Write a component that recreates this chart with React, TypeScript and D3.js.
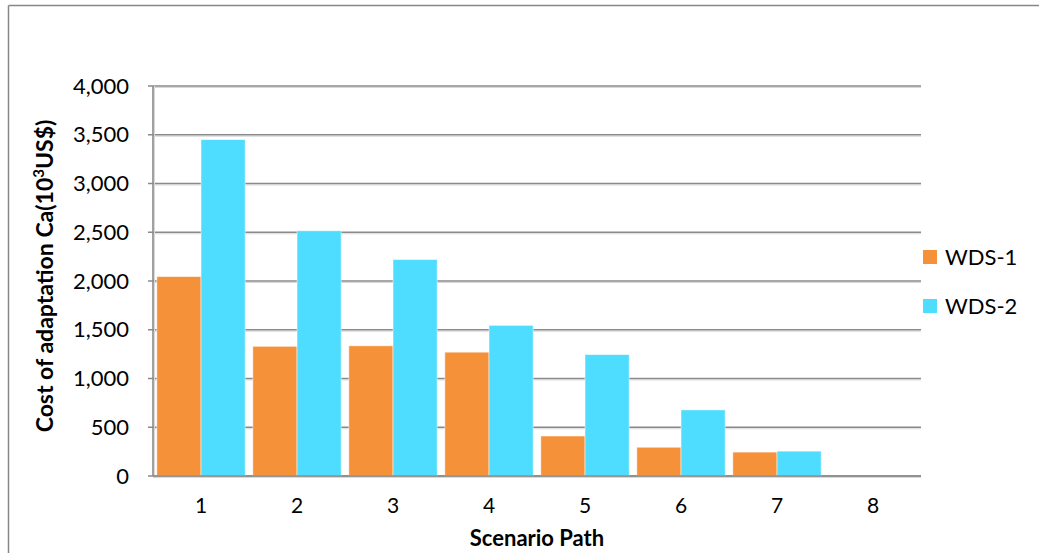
import React from "react";
import * as d3 from "d3";

const categories = ["1", "2", "3", "4", "5", "6", "7", "8"];
const wds1 = [2045, 1330, 1335, 1270, 410, 295, 245, 0];
const wds2 = [3450, 2515, 2220, 1545, 1245, 678, 255, 0];
const yTicks = [0, 500, 1000, 1500, 2000, 2500, 3000, 3500, 4000];
const seriesNames = ["WDS-1", "WDS-2"];
const seriesColors = ["#F59138", "#4FDDFF"];

const W = 1039;
const H = 553;
const left = 153;
const right = 921;
const top = 86;
const bottom = 476;
const FONT = "Lato, 'Open Sans', sans-serif";

export default function App() {
  const x = d3
    .scaleBand<string>()
    .domain(categories)
    .range([left, right])
    .paddingInner(0.08)
    .paddingOuter(0.04);
  const sub = d3
    .scaleBand<string>()
    .domain(seriesNames)
    .range([0, x.bandwidth()]);
  const y = d3.scaleLinear().domain([0, 4000]).range([bottom, top]);
  const fmt = d3.format(",");
  const series = [wds1, wds2];

  return (
    <svg
      width={W}
      height={H}
      style={{ position: "absolute", left: 0, top: 0, background: "#fff" }}
    >
      <rect x={0} y={0} width={W} height={H} fill="#fff" />
      {/* outer frame (cut at right and bottom) */}
      <line x1={8.5} y1={5.5} x2={W} y2={5.5} stroke="#878787" strokeWidth={1.5} />
      <line x1={8.5} y1={5.5} x2={8.5} y2={H} stroke="#878787" strokeWidth={1.5} />

      {/* gridlines */}
      {yTicks.map((t) => (
        <g key={"g" + t}>
          <line
            x1={left}
            x2={right}
            y1={y(t) + 1.5}
            y2={y(t) + 1.5}
            stroke="#d9d9d9"
            strokeWidth={1}
          />
          <line
            x1={left - 5}
            x2={right}
            y1={y(t)}
            y2={y(t)}
            stroke="#8a8a8a"
            strokeWidth={1.6}
          />
        </g>
      ))}
      {/* y axis */}
      <line x1={left + 1.5} x2={left + 1.5} y1={top} y2={bottom} stroke="#d9d9d9" strokeWidth={1} />
      <line x1={left} x2={left} y1={top} y2={bottom} stroke="#8a8a8a" strokeWidth={1.6} />

      {/* bars */}
      {categories.map((c, i) => (
        <g key={c} transform={`translate(${x(c)},0)`}>
          {series.map((s, j) =>
            s[i] > 0 ? (
              <rect
                key={j}
                x={sub(seriesNames[j])}
                y={y(s[i])}
                width={sub.bandwidth()}
                height={bottom - y(s[i])}
                fill={seriesColors[j]}
                stroke="#ffffff"
                strokeOpacity={0.6}
                strokeWidth={0.8}
              />
            ) : null
          )}
        </g>
      ))}
      {/* x axis line on top */}
      <line x1={left} x2={right} y1={bottom} y2={bottom} stroke="#8a8a8a" strokeWidth={1.6} />

      {/* y tick labels */}
      {yTicks.map((t) => (
        <text
          key={"l" + t}
          x={129}
          y={y(t)}
          dy="0.35em"
          textAnchor="end"
          fontFamily={FONT}
          fontSize={22}
          fill="#000"
        >
          {fmt(t)}
        </text>
      ))}
      {/* x tick labels */}
      {categories.map((c) => (
        <text
          key={"x" + c}
          x={(x(c) as number) + x.bandwidth() / 2}
          y={506}
          dy="0.35em"
          textAnchor="middle"
          fontFamily={FONT}
          fontSize={21}
          fill="#000"
        >
          {c}
        </text>
      ))}
      {/* x title */}
      <text
        x={537}
        y={538}
        dy="0.35em"
        textAnchor="middle"
        fontFamily={FONT}
        fontWeight="bold"
        fontSize={22}
        fill="#000"
      >
        Scenario Path
      </text>
      {/* y title */}
      <text
        transform={`translate(45,${(top + bottom) / 2 - 5}) rotate(-90)`}
        dy="0.35em"
        textAnchor="middle"
        fontFamily={FONT}
        fontWeight="bold"
        fontSize={23}
        fill="#000"
      >
        Cost of adaptation Ca(10
        <tspan fontSize={15} dy="-0.6em">3</tspan>
        <tspan dy="0.4em">US$)</tspan>
      </text>

      {/* legend */}
      {seriesNames.map((n, j) => (
        <g key={n} transform={`translate(923,${257 + j * 49})`}>
          <rect x={0} y={-7} width={14} height={14} fill={seriesColors[j]} />
          <text
            x={22}
            y={0}
            dy="0.35em"
            fontFamily={FONT}
            fontSize={22}
            fill="#000"
          >
            {n}
          </text>
        </g>
      ))}
    </svg>
  );
}
